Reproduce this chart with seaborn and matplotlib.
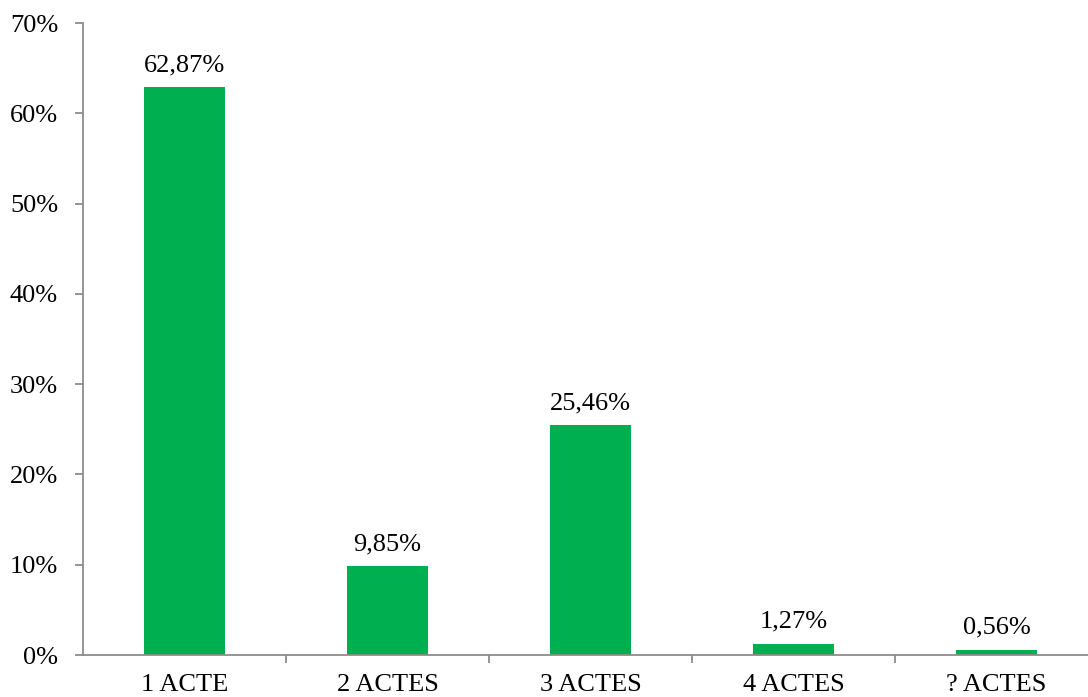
import matplotlib
matplotlib.use("Agg")
import matplotlib.pyplot as plt
import seaborn as sns
import pandas as pd
from matplotlib.ticker import FixedLocator, FuncFormatter

categories = ["1 ACTE", "2 ACTES", "3 ACTES", "4 ACTES", "? ACTES"]
values = [62.87, 9.85, 25.46, 1.27, 0.56]
value_labels = ["62,87%", "9,85%", "25,46%", "1,27%", "0,56%"]
y_ticks = [0, 10, 20, 30, 40, 50, 60, 70]

sns.set_style("white")
plt.rcParams["font.family"] = ["Liberation Serif", "DejaVu Serif"]
plt.rcParams["text.color"] = "black"
plt.rcParams["xtick.labelcolor"] = "black"
plt.rcParams["ytick.labelcolor"] = "black"

fig = plt.figure(figsize=(10.88, 6.97), dpi=100)
ax = fig.add_axes([83/1088, 1-655/697, (1098-83)/1088, (655-23)/697])

df = pd.DataFrame({"cat": categories, "val": values})
sns.barplot(data=df, x="cat", y="val", color="#00B050", width=0.4, ax=ax,
            saturation=1, edgecolor="none")

ax.set_xlim(-0.5, 4.5)
ax.set_ylim(0, 70)
ax.set_xlabel("")
ax.set_ylabel("")

gray = "#8c8c8c"
for s in ["top", "right"]:
    ax.spines[s].set_visible(False)
for s in ["left", "bottom"]:
    ax.spines[s].set_color(gray)
    ax.spines[s].set_linewidth(1.3)

fs = 19
ax.yaxis.set_major_locator(FixedLocator(y_ticks))
ax.yaxis.set_major_formatter(FuncFormatter(lambda v, p: f"{int(v)}%"))
ax.tick_params(axis="y", which="major", left=True, length=6, width=1.3,
               color=gray, labelsize=fs, pad=12, direction="out", labelcolor="black")

ax.xaxis.set_minor_locator(FixedLocator([0.5, 1.5, 2.5, 3.5]))
ax.tick_params(axis="x", which="major", bottom=False, length=0, labelsize=fs, pad=14,
               labelcolor="black")
ax.tick_params(axis="x", which="minor", bottom=True, length=6, width=1.3,
               color=gray, direction="out")

ax.bar_label(ax.containers[0], labels=value_labels, padding=8, fontsize=fs, color="black")

fig.savefig("out.png", dpi=100)
